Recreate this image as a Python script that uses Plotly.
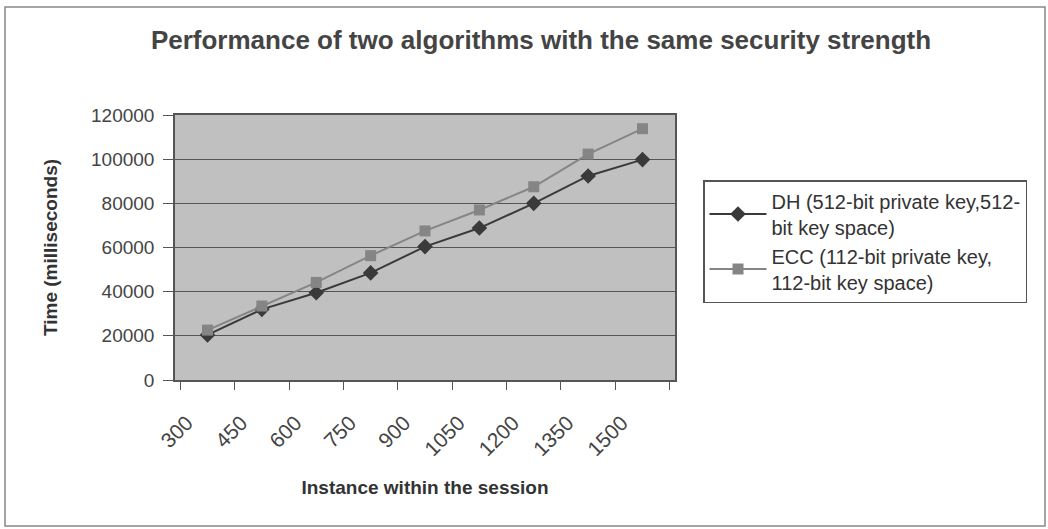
import plotly.graph_objects as go

# Session instance counts (category labels on the x axis)
instances = ["300", "450", "600", "750", "900", "1050", "1200", "1350", "1500"]

# Elapsed time in milliseconds for each algorithm
dh_times = [20400, 32000, 39500, 48500, 60400, 68800, 80000, 92400, 99800]
ecc_times = [22600, 33500, 44200, 56300, 67500, 77000, 87500, 102300, 113800]

y_ticks = [0, 20000, 40000, 60000, 80000, 100000, 120000]
y_tick_labels = ["0", "20000", "40000", "60000", "80000", "100000", "120000"]

FONT = "Liberation Sans, Arial, sans-serif"

# Rotated category labels sit a little left of their category centre
x_tick_labels = [c + "\u00a0" * 5 for c in instances]

fig = go.Figure()

fig.add_trace(go.Scatter(
    x=instances, y=dh_times, mode="lines+markers",
    name="DH (512-bit private key,512-<br>bit key space)",
    line=dict(color="#3a3a3a", width=2),
    marker=dict(symbol="diamond", size=12, color="#3a3a3a"),
))
fig.add_trace(go.Scatter(
    x=instances, y=ecc_times, mode="lines+markers",
    name="ECC (112-bit private key,<br>112-bit key space)",
    line=dict(color="#858585", width=2),
    marker=dict(symbol="square", size=11, color="#858585"),
))

fig.update_layout(
    width=1048, height=529,
    margin=dict(l=175, r=373, t=115, b=149),
    paper_bgcolor="white",
    plot_bgcolor="#c0c0c0",
    font=dict(family=FONT, color="#333333", size=19),
    title=dict(
        text="<b>Performance of two algorithms with the same security strength</b>",
        x=541 / 1048, xref="container", xanchor="center",
        y=1 - 40 / 529, yref="container", yanchor="middle",
        font=dict(size=26, color="#444444"),
    ),
    xaxis=dict(
        type="category",
        tickangle=-45,
        tickson="boundaries",
        tickmode="array",
        tickvals=instances,
        ticktext=x_tick_labels,
        ticks="outside", ticklen=8, tickcolor="#555555",
        ticklabelstandoff=0,
        showgrid=False,
        showline=True, linecolor="#555555", linewidth=1.5, mirror=True,
        title=dict(text="<b>Instance within the session</b>", standoff=21,
                   font=dict(size=19, color="#333333")),
        tickfont=dict(size=21, color="#444444"),
    ),
    yaxis=dict(
        range=[0, 120000],
        tickvals=y_ticks,
        ticktext=y_tick_labels,
        ticks="outside", ticklen=10, tickcolor="#555555",
        ticklabelstandoff=5,
        showgrid=True, gridcolor="#555555", gridwidth=1.2,
        showline=True, linecolor="#555555", linewidth=1.5, mirror=True,
        zeroline=False,
        title=dict(text="<b>Time (milliseconds)</b>", standoff=28,
                   font=dict(size=19, color="#333333")),
        tickfont=dict(size=19, color="#444444"),
    ),
    legend=dict(
        x=(703 - 175) / 500, xanchor="left",
        y=(380 - 180) / 265, yanchor="top",
        bordercolor="#555555", borderwidth=1.5,
        bgcolor="white",
        font=dict(size=20, color="#333333"),
        itemwidth=57,
        tracegroupgap=2,
    ),
    showlegend=True,
)

# Chart-area frame around the whole figure
fig.add_shape(
    type="rect", xref="paper", yref="paper",
    x0=(5 - 175) / 500, x1=(1045 - 175) / 500,
    y0=(380 - 526) / 265, y1=(380 - 7) / 265,
    line=dict(color="#888888", width=1.5),
    fillcolor="rgba(0,0,0,0)", layer="below",
)

fig.write_html("out.html")
